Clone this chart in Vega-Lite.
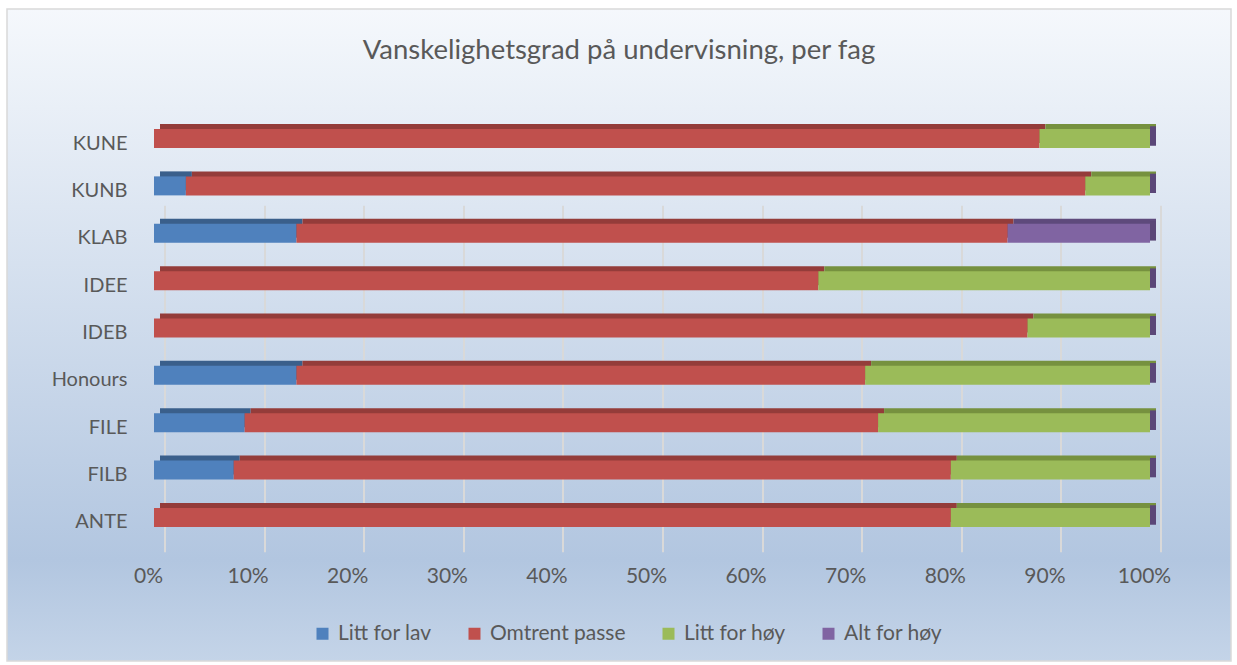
{
  "$schema": "https://vega.github.io/schema/vega-lite/v6.json",
  "autosize": {"type": "none"},
  "width": 1224,
  "height": 652,
  "padding": {"left": 7, "top": 9, "right": 6, "bottom": 4},
  "background": "#ffffff",
  "view": {
    "fill": {
      "gradient": "linear", "x1": 0, "y1": 0, "x2": 0, "y2": 1,
      "stops": [
        {"offset": 0, "color": "#f5f8fc"},
        {"offset": 0.845, "color": "#b2c6e0"},
        {"offset": 1, "color": "#c4d4e8"}
      ]
    },
    "stroke": "#d9d9d9",
    "strokeWidth": 1.5
  },
  "title": {
    "text": "Vanskelighetsgrad på undervisning, per fag",
    "font": "Lato",
    "fontSize": 27.5,
    "fontWeight": "normal",
    "color": "#595959",
    "anchor": "middle",
    "frame": "group",
    "baseline": "alphabetic",
    "offset": -77
  },
  "config": {"font": "Lato"},
  "data": {
    "values": [
      {"fag": "ANTE", "svar": "Omtrent passe", "andel": 80, "o": 2},
      {"fag": "ANTE", "svar": "Litt for høy", "andel": 20, "o": 3},
      {"fag": "FILB", "svar": "Litt for lav", "andel": 8, "o": 1},
      {"fag": "FILB", "svar": "Omtrent passe", "andel": 72, "o": 2},
      {"fag": "FILB", "svar": "Litt for høy", "andel": 20, "o": 3},
      {"fag": "FILE", "svar": "Litt for lav", "andel": 9.1, "o": 1},
      {"fag": "FILE", "svar": "Omtrent passe", "andel": 63.6, "o": 2},
      {"fag": "FILE", "svar": "Litt for høy", "andel": 27.3, "o": 3},
      {"fag": "Honours", "svar": "Litt for lav", "andel": 14.3, "o": 1},
      {"fag": "Honours", "svar": "Omtrent passe", "andel": 57.1, "o": 2},
      {"fag": "Honours", "svar": "Litt for høy", "andel": 28.6, "o": 3},
      {"fag": "IDEB", "svar": "Omtrent passe", "andel": 87.7, "o": 2},
      {"fag": "IDEB", "svar": "Litt for høy", "andel": 12.3, "o": 3},
      {"fag": "IDEE", "svar": "Omtrent passe", "andel": 66.7, "o": 2},
      {"fag": "IDEE", "svar": "Litt for høy", "andel": 33.3, "o": 3},
      {"fag": "KLAB", "svar": "Litt for lav", "andel": 14.3, "o": 1},
      {"fag": "KLAB", "svar": "Omtrent passe", "andel": 71.4, "o": 2},
      {"fag": "KLAB", "svar": "Alt for høy", "andel": 14.3, "o": 4},
      {"fag": "KUNB", "svar": "Litt for lav", "andel": 3.2, "o": 1},
      {"fag": "KUNB", "svar": "Omtrent passe", "andel": 90.3, "o": 2},
      {"fag": "KUNB", "svar": "Litt for høy", "andel": 6.5, "o": 3},
      {"fag": "KUNE", "svar": "Omtrent passe", "andel": 88.9, "o": 2},
      {"fag": "KUNE", "svar": "Litt for høy", "andel": 11.1, "o": 3}
    ]
  },
  "encoding": {
    "y": {
      "field": "fag",
      "type": "nominal",
      "sort": ["KUNE", "KUNB", "KLAB", "IDEE", "IDEB", "Honours", "FILE", "FILB", "ANTE"],
      "scale": {"range": [105.8, 532.2], "paddingInner": 0.599, "paddingOuter": 0.3},
      "axis": {
        "orient": "left",
        "offset": -120,
        "title": null,
        "domain": false,
        "ticks": false,
        "tickSize": 0,
        "grid": false,
        "labelPadding": 0,
        "labelFontSize": 20,
        "labelColor": "#595959",
        "labelOffset": 5
      }
    }
  },
  "layer": [
    {
      "mark": {"type": "bar", "xOffset": 6, "yOffset": -5},
      "encoding": {
        "x": {
          "field": "andel",
          "type": "quantitative",
          "stack": "normalize",
          "scale": {"domain": [0, 1], "range": [147, 1143], "nice": false},
          "axis": {
            "orient": "top",
            "title": null,
            "labels": false,
            "ticks": false,
            "domain": false,
            "grid": true,
            "values": [0, 0.1, 0.2, 0.3, 0.4, 0.5, 0.6, 0.7, 0.8, 0.9, 1],
            "gridColor": "#d9d9d9",
            "gridWidth": 2,
            "gridDash": [0, 80, 432, 1000],
            "translate": 11
          }
        },
        "order": {"field": "o", "type": "quantitative"},
        "color": {
          "field": "svar",
          "type": "nominal",
          "scale": {
            "domain": ["Litt for lav", "Omtrent passe", "Litt for høy", "Alt for høy"],
            "range": ["#3a5f8b", "#943c3a", "#76913f", "#5e4a7c"]
          },
          "legend": null
        }
      }
    },
    {
      "mark": {"type": "tick", "xOffset": 3, "yOffset": -2.5, "thickness": 6, "size": 19, "color": "#5b4778", "opacity": 1},
      "encoding": {
        "x": {"datum": 1, "type": "quantitative", "axis": null}
      }
    },
    {
      "mark": {"type": "bar"},
      "encoding": {
        "x": {
          "field": "andel",
          "type": "quantitative",
          "stack": "normalize",
          "scale": {"domain": [0, 1], "range": [147, 1143], "nice": false},
          "axis": {
            "orient": "bottom",
            "offset": -98,
            "title": null,
            "grid": false,
            "ticks": false,
            "tickSize": 0,
            "domain": false,
            "format": ".0%",
            "values": [0, 0.1, 0.2, 0.3, 0.4, 0.5, 0.6, 0.7, 0.8, 0.9, 1],
            "labelPadding": 2,
            "labelFontSize": 21,
            "labelColor": "#595959",
            "labelOffset": -6,
            "labelFlush": false,
            "labelOverlap": false
          }
        },
        "order": {"field": "o", "type": "quantitative"},
        "color": {
          "field": "svar",
          "type": "nominal",
          "scale": {
            "domain": ["Litt for lav", "Omtrent passe", "Litt for høy", "Alt for høy"],
            "range": ["#4f81bd", "#c0504d", "#9bbb59", "#8064a2"]
          },
          "legend": {
            "title": null,
            "orient": "none",
            "legendX": 305,
            "legendY": 614,
            "direction": "horizontal",
            "columns": 4,
            "padding": 0,
            "symbolType": "square",
            "symbolSize": 144,
            "symbolStrokeWidth": 0,
            "labelFontSize": 21,
            "labelColor": "#595959",
            "labelOffset": 5,
            "columnPadding": 32
          }
        }
      }
    }
  ],
  "resolve": {"axis": {"x": "independent"}, "scale": {"color": "independent"}}
}
